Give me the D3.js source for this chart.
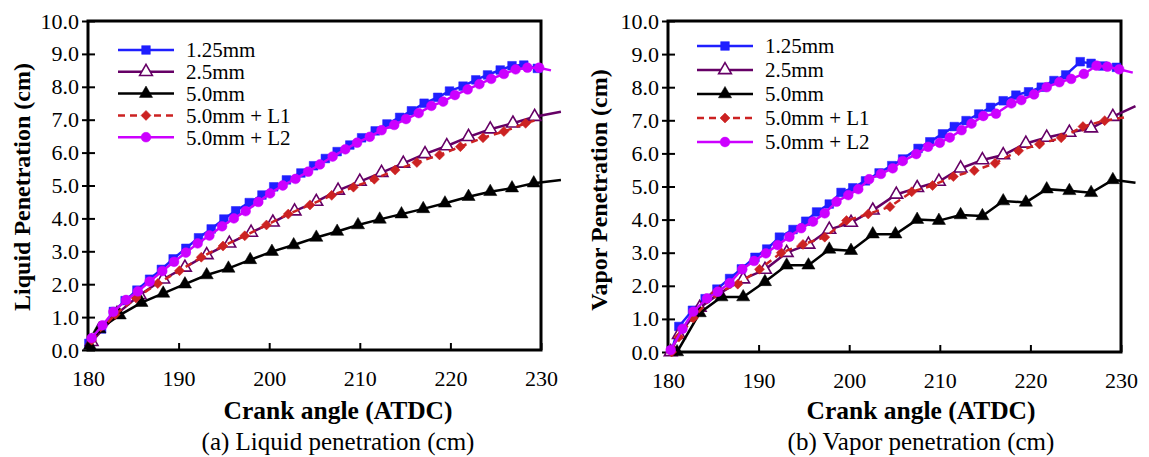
<!DOCTYPE html>
<html>
<head>
<meta charset="utf-8">
<script src="https://cdn.jsdelivr.net/npm/d3@7"></script>
<style>
  body { margin: 0; background: #fff; }
  text { font-family: "Liberation Serif", "Times New Roman", serif; fill: #000; }
</style>
</head>
<body>
<svg id="vis-svg" width="1149" height="457"></svg>
<script>
var width = 1149;
var height = 457;

// series names, in legend order
const names = ["1.25mm", "2.5mm", "5.0mm", "5.0mm + L1", "5.0mm + L2"];
const xTicks = [180, 190, 200, 210, 220, 230];
const yTicks = [0, 1, 2, 3, 4, 5, 6, 7, 8, 9, 10];

// (a) liquid penetration, crank angle vs cm
const liqA_125 = [180.1,181.5,182.8,184.1,185.4,186.8,188.1,189.4,190.8,192.2,193.6,195.0,196.3,197.8,199.2,200.5,201.9,203.5,204.9,206.2,207.5,208.9,210.2,211.7,213.0,214.4,215.7,217.1,218.6,219.9,221.4,222.8,224.1,225.5,226.8,228.1,229.6];
const liqV_125 = [0.2,0.64,1.17,1.5,1.82,2.15,2.45,2.77,3.09,3.41,3.68,3.98,4.23,4.48,4.71,4.96,5.17,5.38,5.6,5.82,6.03,6.23,6.45,6.66,6.87,7.07,7.27,7.5,7.68,7.87,8.02,8.21,8.36,8.51,8.64,8.66,8.56];
const liqA_25 = [180.4,183.2,185.7,188.3,190.7,193.1,195.6,198.0,200.4,202.8,205.2,207.6,210.0,212.4,214.8,217.2,219.6,222.0,224.4,226.9,229.3];
const liqV_25 = [0.25,1.1,1.67,2.15,2.51,2.89,3.24,3.57,3.88,4.22,4.51,4.85,5.12,5.39,5.67,5.96,6.2,6.48,6.71,6.89,7.09];
const liqA_50 = [180.2,181.25,183.5,185.9,188.3,190.7,193.1,195.5,197.9,200.3,202.7,205.2,207.5,209.8,212.2,214.6,217.0,219.4,222.0,224.4,226.8,229.2];
const liqV_50 = [0.13,0.64,1.06,1.44,1.72,2.0,2.28,2.48,2.74,2.99,3.19,3.42,3.6,3.8,3.97,4.13,4.29,4.46,4.66,4.81,4.92,5.07];
const liqA_L1 = [180.4,183.0,185.3,187.7,190.1,192.5,194.9,197.3,199.7,202.1,204.5,206.9,209.3,211.6,213.9,216.3,218.8,221.1,223.6,225.9,228.3];
const liqV_L1 = [0.3,1.08,1.58,2.02,2.41,2.82,3.16,3.47,3.8,4.13,4.41,4.7,4.95,5.19,5.47,5.7,5.93,6.18,6.45,6.64,6.89];
const liqA_L2 = [180.4,181.6,182.8,184.2,185.5,186.8,188.2,189.5,190.8,192.1,193.4,194.8,196.1,197.4,198.8,200.1,201.5,202.9,204.3,205.6,207.0,208.4,209.7,211.1,212.4,213.8,215.1,216.5,217.9,219.2,220.5,221.9,223.2,224.5,225.9,227.2,228.5,229.8];
const liqV_L2 = [0.36,0.75,1.16,1.52,1.78,2.08,2.40,2.68,2.96,3.24,3.48,3.76,4.0,4.22,4.5,4.76,5.0,5.2,5.42,5.64,5.88,6.1,6.3,6.48,6.68,6.84,7.02,7.2,7.42,7.55,7.75,7.92,8.08,8.24,8.39,8.53,8.58,8.58];
// line end points past the last marker (no marker drawn)
const liqTailA = [null, 232.2, 232.2, 229.6, 231.1];
const liqTailV = [null, 7.24, 5.17, 7.0, 8.5];

// (b) vapor penetration
const vapA_125 = [180.4,181.2,182.7,184.1,185.4,186.8,188.1,189.6,190.9,192.3,193.8,195.2,196.4,197.8,199.1,200.4,201.8,203.3,204.7,205.9,207.6,208.9,210.3,211.6,212.9,214.3,215.6,217.0,218.4,219.8,221.2,222.6,223.9,225.5,226.7,228.0,229.5];
const vapV_125 = [0.04,0.77,1.26,1.61,1.9,2.22,2.51,2.86,3.11,3.47,3.7,3.95,4.23,4.47,4.82,4.96,5.17,5.41,5.63,5.83,6.15,6.35,6.59,6.81,6.99,7.19,7.39,7.59,7.76,7.86,8.0,8.2,8.37,8.77,8.72,8.64,8.6];
const vapA_25 = [180.3,181.2,183.5,185.7,188.3,190.7,193.1,195.5,197.8,200.2,202.6,205.2,207.5,209.9,212.3,214.7,217.0,219.5,221.8,224.3,226.7,229.1];
const vapV_25 = [0.0,0.52,1.34,1.77,2.2,2.49,3.0,3.25,3.7,3.91,4.28,4.76,4.96,5.15,5.55,5.8,5.95,6.3,6.48,6.63,6.76,7.11];
const vapA_50 = [181.0,183.5,185.9,188.3,190.7,193.1,195.5,197.8,200.2,202.6,205.1,207.5,209.9,212.3,214.7,217.0,219.5,221.8,224.3,226.7,229.1];
const vapV_50 = [0.0,1.18,1.66,1.66,2.12,2.62,2.62,3.1,3.06,3.56,3.56,4.0,3.97,4.14,4.11,4.56,4.52,4.92,4.87,4.81,5.2];
const vapA_L1 = [180.4,181.2,182.8,185.2,187.7,190.1,192.5,194.9,197.3,199.7,202.1,204.5,206.9,209.2,211.5,213.8,216.1,218.7,221.0,223.4,225.8,228.2];
const vapV_L1 = [0.0,0.45,1.03,1.77,2.05,2.5,3.0,3.25,3.47,3.97,4.17,4.39,4.84,5.03,5.3,5.48,5.7,6.08,6.28,6.47,6.81,6.99];
const vapA_L2 = [180.3,181.6,182.8,184.3,185.5,186.8,188.2,189.5,190.8,192.1,193.4,194.7,196.0,197.3,198.6,199.9,201.0,202.2,203.5,204.8,205.9,207.4,208.7,210.0,211.1,212.4,213.5,214.8,216.2,217.9,219.0,220.4,221.8,223.2,224.5,225.9,227.3,228.5,229.8];
const vapV_L2 = [0.06,0.7,1.22,1.62,1.82,2.08,2.5,2.75,2.98,3.23,3.48,3.74,3.94,4.19,4.54,4.74,4.92,5.22,5.38,5.55,5.77,5.98,6.2,6.32,6.48,6.7,6.9,7.13,7.2,7.51,7.61,7.78,8.0,8.15,8.25,8.4,8.65,8.62,8.54];
const vapTailA = [null, 231.6, 231.6, 230.4, 231.3];
const vapTailV = [null, 7.43, 5.11, 7.09, 8.44];

// styles per series
const colors = ["#1f1fff", "#660066", "#000000", "#cc2222", "#cc00ff"];
const symbols = [d3.symbolSquare, d3.symbolTriangle, d3.symbolTriangle, d3.symbolSquare, d3.symbolCircle];
const symSize = [75, 70, 75, 50, 75];
const symRot = [0, 0, 0, 45, 0];
const symFill = ["#1f1fff", "#fff", "#000000", "#cc2222", "#cc00ff"];
const dashes = [null, null, null, "7,5", null];

const zip = (A, V) => A.map((a, i) => [a, V[i]]);

const panels = [
  {
    x0: 88, x1: 541, yb: 350, yt: 21,
    ytitle: "Liquid Penetration (cm)", ytx: 30, yty: 187,
    xtitle: "Crank angle (ATDC)", caption: "(a) Liquid penetration (cm)", cx: 338,
    legX: 118, legY: 50, legStep: 21.8,
    series: [zip(liqA_125, liqV_125), zip(liqA_25, liqV_25), zip(liqA_50, liqV_50), zip(liqA_L1, liqV_L1), zip(liqA_L2, liqV_L2)],
    tailA: liqTailA, tailV: liqTailV
  },
  {
    x0: 668, x1: 1121, yb: 352, yt: 21,
    ytitle: "Vapor Penetration (cm)", ytx: 607, yty: 190,
    xtitle: "Crank angle (ATDC)", caption: "(b) Vapor penetration (cm)", cx: 921,
    legX: 697, legY: 46, legStep: 24,
    series: [zip(vapA_125, vapV_125), zip(vapA_25, vapV_25), zip(vapA_50, vapV_50), zip(vapA_L1, vapV_L1), zip(vapA_L2, vapV_L2)],
    tailA: vapTailA, tailV: vapTailV
  }
];

const svg = d3.select("#vis-svg");

const marker = (g, i, cx, cy) => {
  g.append("path")
    .attr("d", d3.symbol().type(symbols[i]).size(symSize[i])())
    .attr("transform", `translate(${cx},${cy}) rotate(${symRot[i]})`)
    .attr("fill", symFill[i])
    .attr("stroke", colors[i])
    .attr("stroke-width", i === 1 ? 1.6 : 0.5);
};

const drawPanel = p => {
  const x = d3.scaleLinear().domain([180, 230]).range([p.x0, p.x1]);
  const y = d3.scaleLinear().domain([0, 10]).range([p.yb, p.yt]);
  const g = svg.append("g");

  // x axis, ticks pointing inward
  const gx = g.append("g")
    .attr("transform", `translate(0,${p.yb})`)
    .call(d3.axisBottom(x).tickValues(xTicks).tickSizeInner(-7).tickSizeOuter(0).tickPadding(20).tickFormat(d3.format("d")));
  gx.select(".domain").remove();
  gx.selectAll("line").attr("stroke", "#000").attr("stroke-width", 2);
  gx.selectAll("text").attr("font-size", 22).attr("font-family", "Liberation Serif");

  // y axis, ticks crossing the axis
  const gy = g.append("g")
    .attr("transform", `translate(${p.x0},0)`)
    .call(d3.axisLeft(y).tickValues(yTicks).tickSizeInner(6).tickSizeOuter(0).tickPadding(3).tickFormat(d3.format(".1f")));
  gy.select(".domain").remove();
  gy.selectAll("line").attr("x1", -6).attr("x2", 7).attr("stroke", "#000").attr("stroke-width", 2);
  gy.selectAll("text").attr("font-size", 22).attr("font-family", "Liberation Serif");

  // frame
  g.append("rect")
    .attr("x", p.x0).attr("y", p.yt)
    .attr("width", p.x1 - p.x0).attr("height", p.yb - p.yt)
    .attr("fill", "none").attr("stroke", "#000").attr("stroke-width", 3);

  const line = d3.line().x(d => x(d[0])).y(d => y(d[1]));

  p.series.forEach((pts, i) => {
    const all = p.tailA[i] == null ? pts : pts.concat([[p.tailA[i], p.tailV[i]]]);
    g.append("path")
      .attr("d", line(all))
      .attr("fill", "none")
      .attr("stroke", colors[i])
      .attr("stroke-width", 2.5)
      .attr("stroke-dasharray", dashes[i]);
    pts.forEach(d => marker(g, i, x(d[0]), y(d[1])));
  });

  // legend
  names.forEach((n, i) => {
    const ly = p.legY + i * p.legStep;
    g.append("line")
      .attr("x1", p.legX).attr("x2", p.legX + 56)
      .attr("y1", ly).attr("y2", ly)
      .attr("stroke", colors[i]).attr("stroke-width", 2.5)
      .attr("stroke-dasharray", dashes[i]);
    marker(g, i, p.legX + 28, ly);
    g.append("text")
      .attr("x", p.legX + 68).attr("y", ly)
      .attr("dy", "0.35em")
      .attr("font-size", 21)
      .text(n);
  });

  // titles
  g.append("text")
    .attr("transform", `translate(${p.ytx},${p.yty}) rotate(-90)`)
    .attr("text-anchor", "middle")
    .attr("font-size", 24).attr("font-weight", "bold")
    .text(p.ytitle);
  g.append("text")
    .attr("x", p.cx).attr("y", 419)
    .attr("text-anchor", "middle")
    .attr("font-size", 25.5).attr("font-weight", "bold")
    .text(p.xtitle);
  g.append("text")
    .attr("x", p.cx).attr("y", 450)
    .attr("text-anchor", "middle")
    .attr("font-size", 25)
    .text(p.caption);
};

panels.forEach(drawPanel);
</script>
</body>
</html>
